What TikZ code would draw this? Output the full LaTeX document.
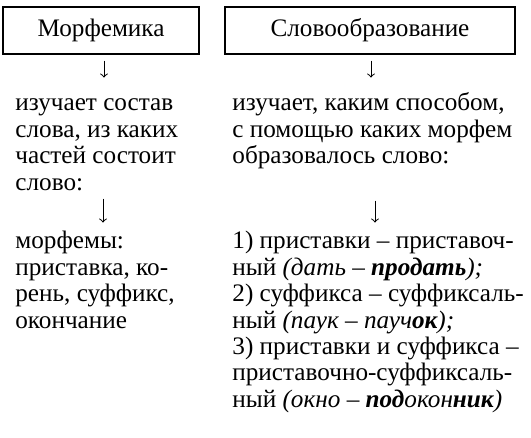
\documentclass[tikz,border=0pt]{standalone}
\usepackage{fontspec}
\setmainfont{Liberation Serif}
\newfontfamily\lserif{Liberation Serif}
\usepackage{tikz}
\usetikzlibrary{arrows}

\tikzset{
  hbox/.style={draw, line width=0.6pt, minimum height=23.5pt, inner sep=0pt},
  txt/.style={anchor=north west, align=left, inner sep=0pt},
  arr/.style={->, >=to, line width=0.5pt}
}

\begin{document}
\begin{tikzpicture}[x=0.5pt, y=-0.5pt, font=\lserif\fontsize{12.6}{13.2}\selectfont]
        \useasboundingbox (0,0) rectangle (531,438);

        \node[hbox, minimum width=98pt] (morf) at (101,30.5) {Морфемика};
        \node[hbox, minimum width=145pt] (slovo) at (370,30.5) {Словообразование};

        \node[txt] (morfdef) at (15,92) {\strut изучает состав\\слова, из каких\\частей состоит\\слово:};
        \node[txt] (morfparts) at (15,230) {\strut морфемы:\\приставка, ко-\\рень, суффикс,\\окончание};

        \node[txt] (slovodef) at (232,92) {\strut изучает, каким способом,\\с помощью каких морфем\\образовалось слово:};
        \node[txt] (slovoways) at (232,230) {\strut 1) приставки – приставоч-\\ный \textit{(дать – \textbf{продать});}\\2) суффикса – суффиксаль-\\ный \textit{(паук – пауч\textbf{ок});}\\3) приставки и суффикса –\\приставочно-суффиксаль-\\ный \textit{(окно – \textbf{под}окон\textbf{ник})}};

        \draw[arr] ([xshift=1.5pt,yshift=-3pt]morf.south) -- ++(0,17);
        \draw[arr] ([xshift=0.5pt,yshift=-3pt]slovo.south) -- ++(0,17);
        \draw[arr] ([xshift=1pt,yshift=-72pt]morf.south) -- ++(0,24);
        \draw[arr] ([xshift=2.5pt,yshift=-73pt]slovo.south) -- ++(0,22);

\end{tikzpicture}
\end{document}
